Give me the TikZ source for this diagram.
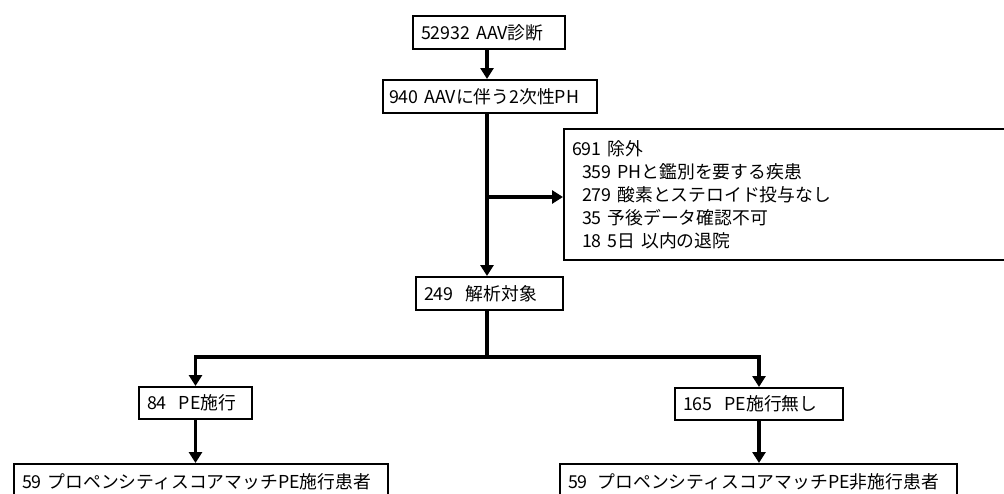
\documentclass[tikz,border=0pt]{standalone}
\usepackage{fontspec}
\setmainfont{Noto Sans CJK JP}
\usetikzlibrary{arrows.meta}
\tikzset{
  box/.style={draw=black, line width=2pt, rectangle, inner xsep=8pt, inner ysep=0pt,
    align=left, font=\fontsize{17.8}{23}\selectfont, anchor=center},
  arr/.style={line width=3.5pt, -{Triangle[width=13pt,length=11pt]}},
  ln/.style={line width=3.5pt}
}
\begin{document}
\begin{tikzpicture}[x=1pt,y=-1pt]
\useasboundingbox (0,0) rectangle (1004,493);
\clip (0,0) rectangle (1004,493);
\fill[white] (0,0) rectangle (1004,493);
\node[box, text width=136pt, minimum height=33pt] (b1) at (489,32.5) {52932 AAV診断};
\node[box, text width=202pt, minimum height=33pt, inner xsep=6pt] (b2) at (490,96.5) {940 AAVに伴う2次性PH};
\node[box, text width=444pt, minimum height=131pt, anchor=north west, inner ysep=6pt] (ex) at (563,128)
  {691 除外\\
  \hspace*{10pt}359 PHと鑑別を要する疾患\\
  \hspace*{10pt}279 酸素とステロイド投与なし\\
  \hspace*{10pt}35 予後データ確認不可\\
  \hspace*{10pt}18 5日 以内の退院};
\node[box, text width=131pt, minimum height=33pt] (b249) at (489.5,293.5) {249\hspace{12pt}解析対象};
\node[box, text width=97pt, minimum height=32pt] (b84) at (195.5,403) {84\hspace{12pt}PE施行};
\node[box, text width=152pt, minimum height=32pt] (b165) at (759,404) {165\hspace{12pt}PE施行無し};
\node[box, text width=358pt, minimum height=36pt, anchor=north] (m1) at (201,463) {59 プロペンシティスコアマッチPE施行患者};
\node[box, text width=381pt, minimum height=36pt, anchor=north] (m2) at (758.5,463) {59\hspace{10pt}プロペンシティスコアマッチPE非施行患者};
\coordinate (split) at (487,357);
\draw[arr] (b1.south -| 487,0) -- (b2.north -| 487,0);
\draw[arr] (b2.south -| 487,0) -- (b249.north -| 487,0);
\draw[arr] (487,197) -- (ex.west |- 0,197);
\draw[ln] (b249.south -| 487,0) -- (split);
\draw[arr] (split) -| (b84.north);
\draw[arr] (split) -| (b165.north);
\draw[arr] (b84.south) -- (m1.north -| b84.south);
\draw[arr] (b165.south) -- (m2.north -| b165.south);
\end{tikzpicture}
\end{document}
